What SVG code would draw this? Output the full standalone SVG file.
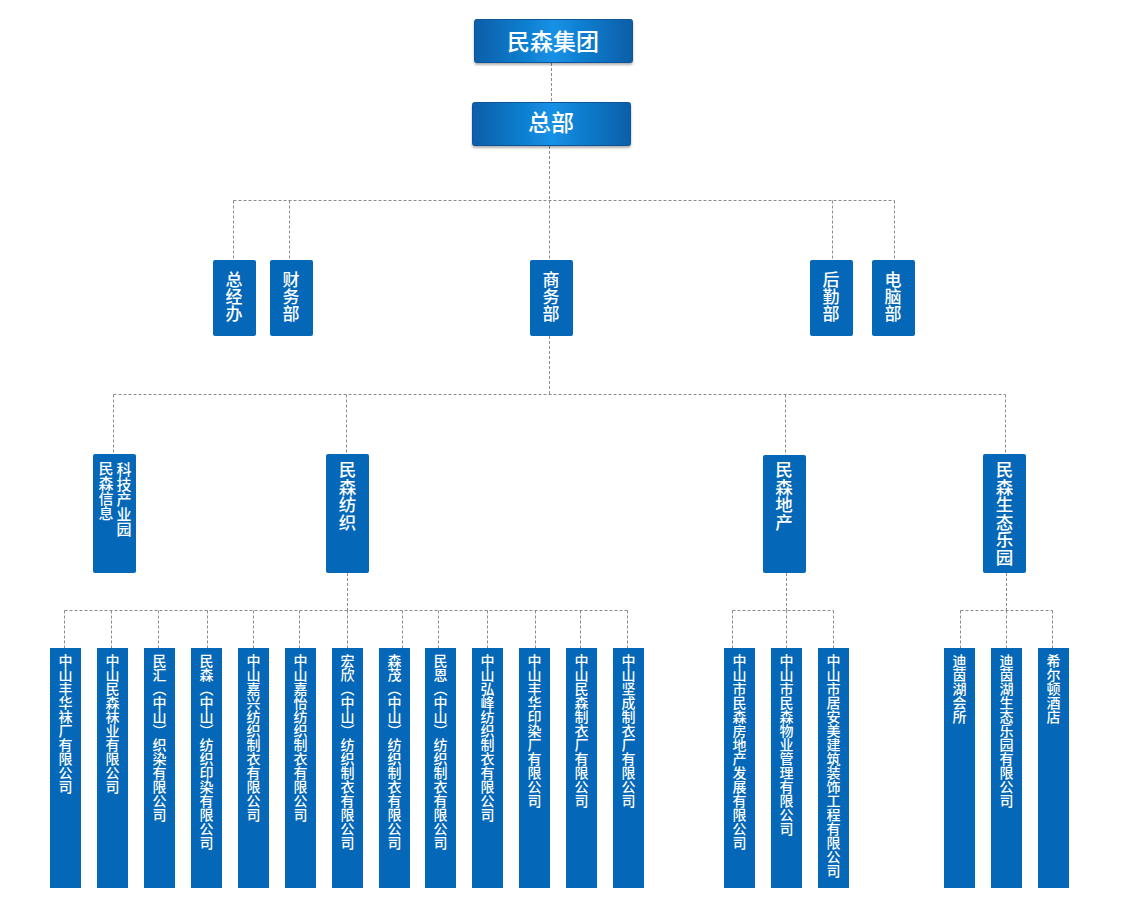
<svg xmlns="http://www.w3.org/2000/svg" width="1130" height="903" viewBox="0 0 1130 903">
<defs>
<linearGradient id="hg" x1="0" y1="0" x2="1" y2="0">
<stop offset="0" stop-color="#0a5ea8"/>
<stop offset="0.5" stop-color="#1491e6"/>
<stop offset="1" stop-color="#0a5ea8"/>
</linearGradient>
<filter id="sh" x="-5%" y="-10%" width="110%" height="130%">
<feDropShadow dx="0" dy="2" stdDeviation="1" flood-color="#000" flood-opacity="0.3"/>
</filter>
</defs>
<style>
.hd{fill:url(#hg);stroke:#0a5596;stroke-width:1;filter:url(#sh)}
.bx{fill:#0567b7}
.ht{font-family:"Noto Sans CJK SC","Noto Sans",sans-serif;font-size:23px;fill:#fff;text-anchor:middle;font-weight:500}
.vt{font-family:"Noto Sans CJK SC","Noto Sans",sans-serif;fill:#fff;writing-mode:vertical-rl;text-anchor:start;font-weight:500}
.v17{font-size:17px}
.v175{font-size:17.5px}
.v15{font-size:15px}
.v14{font-size:14px}
.cn{fill:none;stroke:#8c8c8c;stroke-width:1;stroke-dasharray:3 2}
</style>
<rect width="1130" height="903" fill="#fff"/>
<g id="connectors">
<path class="cn" d="M551.5 63V102"/>
<path class="cn" d="M549.5 146V200.5M233.5 200.5H894.5M233.5 200.5V260M289.5 200.5V260M549.5 200.5V260M832.5 200.5V260M894.5 200.5V260"/>
<path class="cn" d="M549.5 336V394.5M113.5 394.5H1005.5M113.5 394.5V454M346.5 394.5V454M785.5 394.5V455M1005.5 394.5V454"/>
<path class="cn" d="M347.5 573V610.5M64.5 610.5H627.5M64.5 610.5V648M111.5 610.5V648M158.5 610.5V648M207.5 610.5V648M253.5 610.5V648M299.5 610.5V648M347.5 610.5V648M402.5 610.5V648M438.5 610.5V648M487.5 610.5V648M535.5 610.5V648M580.5 610.5V648M627.5 610.5V648"/>
<path class="cn" d="M786.5 573V610.5M732.5 610.5H833.5M732.5 610.5V648M786.5 610.5V648M833.5 610.5V648"/>
<path class="cn" d="M1006.5 573V610.5M960.5 610.5H1052.5M960.5 610.5V648M1006.5 610.5V648M1052.5 610.5V648"/>
</g>
<g id="n-group"><rect class="hd" x="474.5" y="19.5" width="158" height="43" rx="2"/><text class="ht" x="553" y="50">民森集团</text></g>
<g id="n-hq"><rect class="hd" x="472.5" y="102.5" width="158" height="43" rx="2"/><text class="ht" x="551" y="131">总部</text></g>

<g id="n-zjb"><rect class="bx" x="213" y="260" width="43" height="76" rx="2"/><text class="vt v17" x="234" y="271">总经办</text></g>
<g id="n-cwb"><rect class="bx" x="270" y="260" width="43" height="76" rx="2"/><text class="vt v17" x="291" y="271">财务部</text></g>
<g id="n-swb"><rect class="bx" x="530" y="260" width="43" height="76" rx="2"/><text class="vt v17" x="551" y="271">商务部</text></g>
<g id="n-hqb"><rect class="bx" x="810" y="260" width="43" height="76" rx="2"/><text class="vt v17" x="831" y="271">后勤部</text></g>
<g id="n-dnb"><rect class="bx" x="872" y="260" width="43" height="76" rx="2"/><text class="vt v17" x="893" y="271">电脑部</text></g>

<g id="n-xx"><rect class="bx" x="93" y="454" width="43" height="119" rx="2"/><text class="vt v15" x="106" y="461">民森信息</text><text class="vt v15" x="124" y="462">科技产业园</text></g>
<g id="n-fz"><rect class="bx" x="326" y="454" width="43" height="119" rx="2"/><text class="vt v175" x="347.5" y="461">民森纺织</text></g>
<g id="n-dc"><rect class="bx" x="763" y="455" width="43" height="118" rx="2"/><text class="vt v175" x="784" y="461">民森地产</text></g>
<g id="n-st"><rect class="bx" x="983" y="454" width="43" height="119" rx="2"/><text class="vt v175" x="1004.5" y="461">民森生态乐园</text></g>

<g id="n-b1"><rect class="bx" x="50" y="648" width="31" height="240"/><text class="vt v14" x="65.5" y="654">中山丰华袜厂有限公司</text></g>
<g id="n-b2"><rect class="bx" x="97" y="648" width="31" height="240"/><text class="vt v14" x="112.5" y="654">中山民森袜业有限公司</text></g>
<g id="n-b3"><rect class="bx" x="144" y="648" width="31" height="240"/><text class="vt v14" x="159.5" y="654">民汇（中山）织染有限公司</text></g>
<g id="n-b4"><rect class="bx" x="191" y="648" width="31" height="240"/><text class="vt v14" x="206.5" y="654">民森（中山）纺织印染有限公司</text></g>
<g id="n-b5"><rect class="bx" x="238" y="648" width="31" height="240"/><text class="vt v14" x="253.5" y="654">中山嘉兴纺织制衣有限公司</text></g>
<g id="n-b6"><rect class="bx" x="285" y="648" width="31" height="240"/><text class="vt v14" x="300.5" y="654">中山嘉怡纺织制衣有限公司</text></g>
<g id="n-b7"><rect class="bx" x="332" y="648" width="31" height="240"/><text class="vt v14" x="347.5" y="654">宏欣（中山）纺织制衣有限公司</text></g>
<g id="n-b8"><rect class="bx" x="379" y="648" width="31" height="240"/><text class="vt v14" x="394.5" y="654">森茂（中山）纺织制衣有限公司</text></g>
<g id="n-b9"><rect class="bx" x="425" y="648" width="31" height="240"/><text class="vt v14" x="440.5" y="654">民恩（中山）纺织制衣有限公司</text></g>
<g id="n-b10"><rect class="bx" x="472" y="648" width="31" height="240"/><text class="vt v14" x="487.5" y="654">中山弘峰纺织制衣有限公司</text></g>
<g id="n-b11"><rect class="bx" x="519" y="648" width="31" height="240"/><text class="vt v14" x="534.5" y="654">中山丰华印染厂有限公司</text></g>
<g id="n-b12"><rect class="bx" x="566" y="648" width="31" height="240"/><text class="vt v14" x="581.5" y="654">中山民森制衣厂有限公司</text></g>
<g id="n-b13"><rect class="bx" x="613" y="648" width="31" height="240"/><text class="vt v14" x="628.5" y="654">中山坚成制衣厂有限公司</text></g>

<g id="n-d1"><rect class="bx" x="724" y="648" width="31" height="240"/><text class="vt v14" x="739.5" y="654">中山市民森房地产发展有限公司</text></g>
<g id="n-d2"><rect class="bx" x="771" y="648" width="31" height="240"/><text class="vt v14" x="786.5" y="654">中山市民森物业管理有限公司</text></g>
<g id="n-d3"><rect class="bx" x="818" y="648" width="31" height="240"/><text class="vt v14" x="833.5" y="654">中山市居安美建筑装饰工程有限公司</text></g>

<g id="n-s1"><rect class="bx" x="944" y="648" width="31" height="240"/><text class="vt v14" x="959.5" y="654">迪茵湖会所</text></g>
<g id="n-s2"><rect class="bx" x="991" y="648" width="31" height="240"/><text class="vt v14" x="1006.5" y="654">迪茵湖生态乐园有限公司</text></g>
<g id="n-s3"><rect class="bx" x="1038" y="648" width="31" height="240"/><text class="vt v14" x="1053.5" y="654">希尔顿酒店</text></g>
</svg>
